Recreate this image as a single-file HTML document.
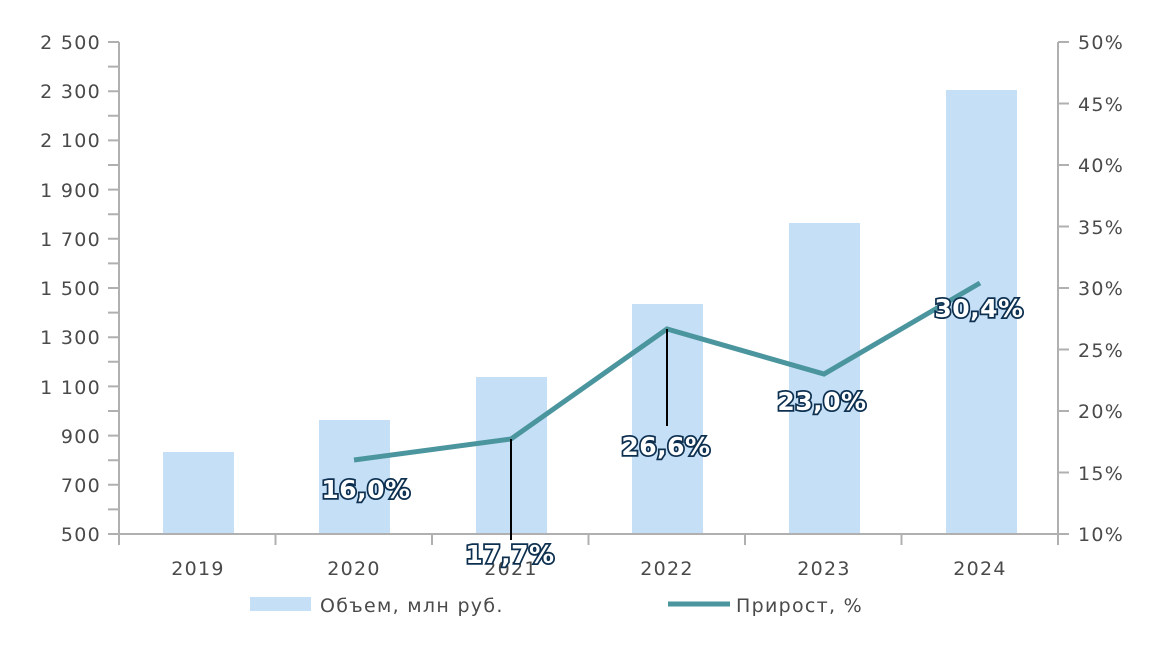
<!DOCTYPE html>
<html><head><meta charset="utf-8"><style>
html,body{margin:0;padding:0;background:#fff;width:1152px;height:648px;overflow:hidden}
text{font-family:"DejaVu Sans","Liberation Sans",sans-serif}
.ax{font-size:19px;fill:#4a4a4a;letter-spacing:1.3px}
.lb{font-size:25px;font-weight:bold;fill:#fff;stroke:#0d3050;stroke-width:3.5px;paint-order:stroke;text-anchor:middle;letter-spacing:0.5px}
</style></head><body>
<svg width="1152" height="648" viewBox="0 0 1152 648">
<g fill="#c5dff6">
<rect x="163" y="452" width="71" height="82"/>
<rect x="319" y="420" width="71" height="114"/>
<rect x="476" y="377" width="71" height="157"/>
<rect x="632" y="304" width="71" height="230"/>
<rect x="789" y="223" width="71" height="311"/>
<rect x="946" y="90" width="71" height="444"/>
</g>
<g stroke="#b0b0b0" stroke-width="2" fill="none">
<line x1="119" y1="42" x2="119" y2="535"/>
<line x1="1058" y1="42" x2="1058" y2="545"/>
<line x1="108" y1="534" x2="1069" y2="534"/>
<path d="M108 42h11M108 66.6h11M108 91.2h11M108 115.8h11M108 140.4h11M108 165h11M108 189.6h11M108 214.2h11M108 238.8h11M108 263.4h11M108 288h11M108 312.6h11M108 337.2h11M108 361.8h11M108 386.4h11M108 411h11M108 435.6h11M108 460.2h11M108 484.8h11M108 509.4h11"/>
<path d="M1058 42h11M1058 103.5h11M1058 165h11M1058 226.5h11M1058 288h11M1058 349.5h11M1058 411h11M1058 472.5h11"/>
<path d="M119 534v11M275.5 534v11M432 534v11M588.5 534v11M745 534v11M901.5 534v11"/>
</g>
<g class="ax" text-anchor="end">
<text x="101" y="49">2 500</text><text x="101" y="98">2 300</text><text x="101" y="147">2 100</text>
<text x="101" y="197">1 900</text><text x="101" y="246">1 700</text><text x="101" y="295">1 500</text>
<text x="101" y="344">1 300</text><text x="101" y="394">1 100</text><text x="101" y="443">900</text>
<text x="101" y="492">700</text><text x="101" y="541">500</text>
</g>
<g class="ax">
<text x="1078" y="49">50%</text><text x="1078" y="111">45%</text><text x="1078" y="172">40%</text>
<text x="1078" y="234">35%</text><text x="1078" y="295">30%</text><text x="1078" y="357">25%</text>
<text x="1078" y="418">20%</text><text x="1078" y="480">15%</text><text x="1078" y="541">10%</text>
</g>
<g class="ax" text-anchor="middle">
<text x="198" y="575">2019</text><text x="354" y="575">2020</text><text x="511" y="575">2021</text>
<text x="667" y="575">2022</text><text x="824" y="575">2023</text><text x="980" y="575">2024</text>
</g>
<polyline points="354,460 511,439 667,329 824,374 980,283" fill="none" stroke="#4b959e" stroke-width="5"/>
<g stroke="#000" stroke-width="2">
<line x1="511" y1="439" x2="511" y2="540"/>
<line x1="667" y1="329" x2="667" y2="426"/>
</g>
<text class="lb" x="366" y="498">16,0%</text>
<text class="lb" x="510" y="563">17,7%</text>
<text class="lb" x="666" y="455">26,6%</text>
<text class="lb" x="822" y="410">23,0%</text>
<text class="lb" x="979" y="317">30,4%</text>
<rect x="250" y="597" width="61" height="14" fill="#c5dff6"/>
<text class="ax" x="320" y="612">Объем, млн руб.</text>
<line x1="668" y1="604" x2="730" y2="604" stroke="#4b959e" stroke-width="5"/>
<text class="ax" x="736" y="612">Прирост, %</text>
</svg>
</body></html>
